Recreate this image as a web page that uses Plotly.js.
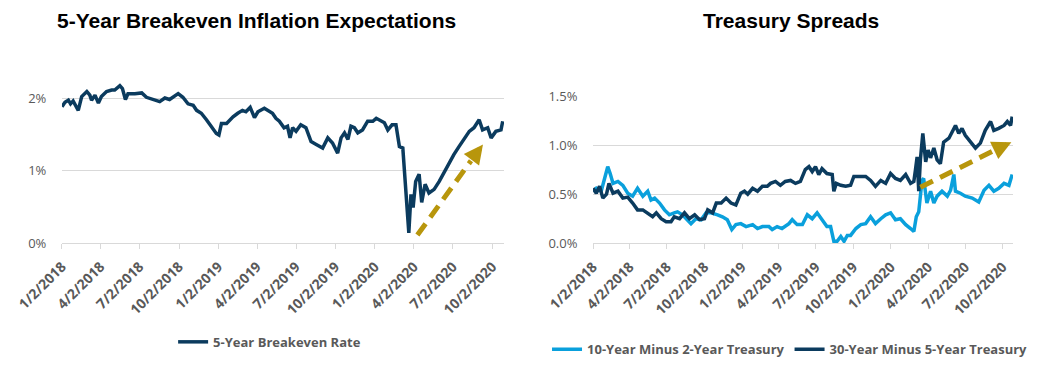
<!DOCTYPE html>
<html>
<head>
<meta charset="utf-8">
<script src="https://cdn.plot.ly/plotly-3.0.1.min.js"></script>
<style>html,body{margin:0;padding:0;background:#fff;}#chart{width:1045px;height:385px;}</style>
</head>
<body>
<div id="chart"></div>
<script>
// ---- Tick labels ----
const tickDates = ['2018-01-02','2018-04-02','2018-07-02','2018-10-02','2019-01-02','2019-04-02','2019-07-02','2019-10-02','2020-01-02','2020-04-02','2020-07-02','2020-10-02'];
const tickLabels = ['1/2/2018','4/2/2018','7/2/2018','10/2/2018','1/2/2019','4/2/2019','7/2/2019','10/2/2019','1/2/2020','4/2/2020','7/2/2020','10/2/2020'];

// ---- 5-Year Breakeven Rate (%) ----
const beDates = ['2018-01-02','2018-01-09','2018-01-17','2018-01-22','2018-01-28','2018-02-05','2018-02-09','2018-02-17','2018-03-01','2018-03-08','2018-03-12','2018-03-20','2018-03-28','2018-04-04','2018-04-16','2018-04-28','2018-05-05','2018-05-17','2018-05-23','2018-05-30','2018-06-05','2018-06-21','2018-07-07','2018-07-18','2018-08-03','2018-08-18','2018-08-30','2018-09-10','2018-09-30','2018-10-11','2018-10-23','2018-11-04','2018-11-12','2018-11-23','2018-12-05','2018-12-17','2018-12-28','2019-01-03','2019-01-09','2019-01-21','2019-01-28','2019-02-05','2019-02-16','2019-02-27','2019-03-07','2019-03-17','2019-03-27','2019-04-04','2019-04-19','2019-04-27','2019-05-08','2019-05-16','2019-05-24','2019-06-04','2019-06-12','2019-06-18','2019-06-24','2019-07-02','2019-07-13','2019-07-25','2019-08-06','2019-08-18','2019-09-02','2019-09-14','2019-09-25','2019-10-07','2019-10-15','2019-10-23','2019-10-31','2019-11-07','2019-11-15','2019-11-23','2019-12-04','2019-12-16','2019-12-28','2020-01-05','2020-01-13','2020-01-24','2020-02-01','2020-02-11','2020-02-20','2020-02-28','2020-03-07','2020-03-15','2020-03-21','2020-03-26','2020-03-31','2020-04-06','2020-04-14','2020-04-20','2020-04-28','2020-05-07','2020-05-19','2020-05-31','2020-06-11','2020-06-23','2020-07-04','2020-07-16','2020-07-28','2020-08-09','2020-08-20','2020-09-01','2020-09-09','2020-09-21','2020-09-29','2020-10-10','2020-10-22','2020-10-26'];
const beValues = [1.88,1.94,1.97,1.92,1.96,1.88,1.83,2.02,2.09,2.04,1.97,2.04,1.93,2.02,2.09,2.11,2.11,2.17,2.13,1.98,2.06,2.06,2.07,2.01,1.98,1.95,2.00,1.98,2.06,2.01,1.92,1.90,1.83,1.79,1.70,1.60,1.51,1.49,1.65,1.65,1.70,1.74,1.79,1.83,1.81,1.87,1.73,1.81,1.86,1.83,1.79,1.72,1.68,1.59,1.61,1.45,1.59,1.54,1.63,1.59,1.40,1.36,1.31,1.45,1.38,1.24,1.45,1.52,1.43,1.61,1.59,1.52,1.56,1.68,1.68,1.72,1.69,1.66,1.56,1.63,1.63,1.33,1.31,0.67,0.14,0.67,0.49,0.85,0.95,0.56,0.81,0.69,0.74,0.85,0.97,1.11,1.22,1.33,1.43,1.54,1.59,1.70,1.56,1.59,1.45,1.54,1.56,1.68];

// ---- 10-Year Minus 2-Year Treasury (%) ----
const s102Dates = ['2018-01-02','2018-01-10','2018-01-22','2018-01-30','2018-02-07','2018-02-13','2018-02-20','2018-03-04','2018-03-16','2018-03-28','2018-04-09','2018-04-21','2018-05-04','2018-05-16','2018-05-24','2018-06-02','2018-06-14','2018-06-26','2018-07-08','2018-07-20','2018-07-28','2018-08-09','2018-08-21','2018-08-30','2018-09-11','2018-09-24','2018-10-06','2018-10-18','2018-11-03','2018-11-15','2018-11-27','2018-12-08','2018-12-18','2018-12-30','2019-01-12','2019-01-28','2019-02-09','2019-02-21','2019-03-09','2019-03-17','2019-03-29','2019-04-10','2019-04-27','2019-05-05','2019-05-17','2019-05-30','2019-06-11','2019-06-23','2019-07-05','2019-07-17','2019-07-29','2019-08-07','2019-08-15','2019-08-23','2019-09-01','2019-09-09','2019-09-17','2019-09-25','2019-10-08','2019-10-20','2019-11-01','2019-11-13','2019-11-25','2019-12-08','2019-12-20','2020-01-01','2020-01-13','2020-01-25','2020-02-07','2020-02-19','2020-02-27','2020-03-04','2020-03-10','2020-03-18','2020-03-22','2020-03-30','2020-04-08','2020-04-16','2020-04-24','2020-05-06','2020-05-19','2020-05-27','2020-06-04','2020-06-08','2020-06-20','2020-07-02','2020-07-19','2020-08-04','2020-08-17','2020-08-29','2020-09-10','2020-09-22','2020-10-05','2020-10-17','2020-10-25'];
const s102Values = [0.53,0.56,0.53,0.64,0.78,0.71,0.61,0.63,0.59,0.51,0.48,0.56,0.48,0.53,0.44,0.46,0.41,0.34,0.29,0.31,0.32,0.29,0.24,0.20,0.25,0.24,0.31,0.31,0.29,0.27,0.24,0.14,0.19,0.20,0.17,0.19,0.15,0.17,0.17,0.14,0.17,0.15,0.20,0.24,0.19,0.19,0.29,0.25,0.31,0.24,0.17,0.17,0.02,0.02,0.07,0.02,0.08,0.08,0.15,0.19,0.20,0.27,0.20,0.25,0.29,0.31,0.24,0.25,0.19,0.15,0.12,0.27,0.32,0.64,0.66,0.41,0.53,0.41,0.48,0.53,0.48,0.54,0.70,0.53,0.51,0.48,0.46,0.42,0.54,0.59,0.53,0.56,0.61,0.59,0.70];

// ---- 30-Year Minus 5-Year Treasury (%) ----
const s305Dates = ['2018-01-02','2018-01-10','2018-01-18','2018-01-26','2018-02-04','2018-02-10','2018-02-20','2018-03-04','2018-03-16','2018-03-28','2018-04-09','2018-04-21','2018-05-04','2018-05-16','2018-05-28','2018-06-06','2018-06-18','2018-06-30','2018-07-12','2018-07-20','2018-08-02','2018-08-14','2018-08-26','2018-09-08','2018-09-20','2018-10-02','2018-10-10','2018-10-22','2018-10-31','2018-11-12','2018-11-24','2018-12-06','2018-12-18','2018-12-30','2019-01-08','2019-01-16','2019-01-28','2019-02-09','2019-02-21','2019-03-05','2019-03-13','2019-03-25','2019-04-06','2019-04-18','2019-05-01','2019-05-13','2019-05-25','2019-06-06','2019-06-15','2019-06-23','2019-07-01','2019-07-09','2019-07-17','2019-07-29','2019-08-11','2019-08-15','2019-08-21','2019-09-01','2019-09-13','2019-09-25','2019-10-03','2019-10-15','2019-11-01','2019-11-13','2019-11-25','2019-12-08','2019-12-20','2020-01-01','2020-01-13','2020-01-25','2020-02-07','2020-02-19','2020-02-27','2020-03-02','2020-03-06','2020-03-10','2020-03-14','2020-03-20','2020-03-27','2020-04-02','2020-04-08','2020-04-16','2020-04-24','2020-05-02','2020-05-10','2020-05-23','2020-05-31','2020-06-08','2020-06-16','2020-06-24','2020-07-02','2020-07-15','2020-07-27','2020-08-08','2020-08-20','2020-09-02','2020-09-10','2020-09-22','2020-10-05','2020-10-13','2020-10-21','2020-10-25'];
const s305Values = [0.56,0.51,0.58,0.46,0.50,0.61,0.51,0.53,0.46,0.47,0.41,0.34,0.34,0.31,0.27,0.31,0.25,0.22,0.22,0.27,0.25,0.31,0.25,0.29,0.24,0.25,0.34,0.31,0.41,0.41,0.46,0.41,0.39,0.51,0.53,0.50,0.56,0.53,0.58,0.58,0.61,0.63,0.59,0.63,0.64,0.61,0.63,0.75,0.78,0.73,0.78,0.70,0.76,0.71,0.70,0.53,0.61,0.59,0.58,0.59,0.68,0.68,0.68,0.64,0.58,0.64,0.61,0.71,0.66,0.64,0.70,0.61,0.63,0.75,0.88,0.53,0.85,1.12,0.83,0.95,0.87,0.97,0.85,0.81,1.03,1.07,1.14,1.20,1.12,1.17,1.10,1.03,0.97,1.02,1.15,1.24,1.15,1.17,1.20,1.24,1.20,1.29];

// ---- Trend arrows (start / tip) ----
const arrowLeftDates = ['2020-04-10','2020-09-10'];
const arrowLeftValues = [0.11, 1.36];
const arrowRightDates = ['2020-03-14','2020-10-23'];
const arrowRightValues = [0.57, 1.03];

const NAVY = '#0B3B5E';
const LIGHT = '#0AA0DC';
const GOLD = '#B8960C';
const GRID = '#D9D9D9';
const TXT = '#595959';
const FONT = 'Open Sans, Liberation Sans, Arial, sans-serif';

const traces = [
  {x: beDates, y: beValues, type: 'scatter', mode: 'lines', name: '5-Year Breakeven Rate',
   line: {color: NAVY, width: 3.5}, xaxis: 'x', yaxis: 'y', legend: 'legend'},
  {x: s102Dates, y: s102Values, type: 'scatter', mode: 'lines', name: '10-Year Minus 2-Year Treasury',
   line: {color: LIGHT, width: 3.5}, xaxis: 'x2', yaxis: 'y2', legend: 'legend2'},
  {x: s305Dates, y: s305Values, type: 'scatter', mode: 'lines', name: '30-Year Minus 5-Year Treasury',
   line: {color: NAVY, width: 3.5}, xaxis: 'x2', yaxis: 'y2', legend: 'legend2'}
];

function frac(d0, d1, f) {
  const a = new Date(d0).getTime(), b = new Date(d1).getTime();
  return new Date(a + (b - a) * f).toISOString().slice(0, 10);
}

function arrowParts(dates, vals, xr, yr) {
  const f = 0.82;
  const midX = frac(dates[0], dates[1], f);
  const midY = vals[0] + (vals[1] - vals[0]) * f;
  const shape = {type: 'line', xref: xr, yref: yr, x0: dates[0], y0: vals[0], x1: midX, y1: midY,
    line: {color: GOLD, width: 5, dash: '14px,8px'}};
  const ann = {xref: xr, yref: yr, axref: xr, ayref: yr, x: dates[1], y: vals[1],
    ax: frac(dates[0], dates[1], 0.9), ay: vals[0] + (vals[1] - vals[0]) * 0.9,
    showarrow: true, arrowhead: 2, arrowsize: 0.85, arrowwidth: 4.5, arrowcolor: GOLD, text: ''};
  return [shape, ann];
}
const aL = arrowParts(arrowLeftDates, arrowLeftValues, 'x', 'y');
const aR = arrowParts(arrowRightDates, arrowRightValues, 'x2', 'y2');

const xCommon = {
  type: 'date', tickmode: 'array', tickvals: tickDates, ticktext: tickLabels,
  tickangle: -45, showgrid: false, showline: true, linecolor: GRID, linewidth: 1,
  ticks: 'outside', ticklen: 5, tickcolor: GRID, tickwidth: 1, ticklabelstandoff: 4,
  tickfont: {family: FONT, size: 14, color: TXT, weight: 'bold'}, zeroline: false
};
const yCommon = {
  showgrid: true, gridcolor: GRID, gridwidth: 1, zeroline: false, showline: false,
  ticks: 'outside', ticklen: 12, tickcolor: 'rgba(0,0,0,0)',
  tickfont: {family: FONT, size: 13, color: TXT}
};

const layout = {
  width: 1045, height: 385,
  margin: {l: 0, r: 0, t: 0, b: 0},
  paper_bgcolor: '#ffffff', plot_bgcolor: '#ffffff',
  showlegend: true,
  xaxis: Object.assign({}, xCommon, {domain: [0.0593, 0.4823], range: ['2018-01-02', '2020-10-29'], anchor: 'y'}),
  yaxis: Object.assign({}, yCommon, {domain: [0.3688, 0.8019], range: [0, 2.3], tickvals: [0, 1, 2], ticktext: ['0%', '1%', '2%'], anchor: 'x'}),
  xaxis2: Object.assign({}, xCommon, {domain: [0.5675, 0.9694], range: ['2018-01-02', '2020-10-27'], anchor: 'y2'}),
  yaxis2: Object.assign({}, yCommon, {domain: [0.3681, 0.7507], range: [0, 1.5], tickvals: [0, 0.5, 1, 1.5], ticktext: ['0.0%', '0.5%', '1.0%', '1.5%'], anchor: 'x2'}),
  legend: {orientation: 'h', x: 0.258, xanchor: 'center', y: 0.112, yanchor: 'middle',
    font: {family: FONT, size: 13, color: TXT, weight: 'bold'}, bgcolor: 'rgba(0,0,0,0)'},
  legend2: {orientation: 'h', x: 0.756, xanchor: 'center', y: 0.093, yanchor: 'middle',
    font: {family: FONT, size: 13, color: TXT, weight: 'bold'}, bgcolor: 'rgba(0,0,0,0)'},
  shapes: [aL[0], aR[0]],
  annotations: [
    aL[1], aR[1],
    {text: '5-Year Breakeven Inflation Expectations', xref: 'paper', yref: 'paper', x: 0.245, y: 0.948,
     xanchor: 'center', yanchor: 'middle', showarrow: false,
     font: {family: 'Liberation Sans, Arial, sans-serif', size: 21, color: '#000000', weight: 'bold'}},
    {text: 'Treasury Spreads', xref: 'paper', yref: 'paper', x: 0.7565, y: 0.948,
     xanchor: 'center', yanchor: 'middle', showarrow: false,
     font: {family: 'Liberation Sans, Arial, sans-serif', size: 21, color: '#000000', weight: 'bold'}}
  ]
};

Plotly.newPlot('chart', traces, layout, {staticPlot: true, displayModeBar: false});
</script>
</body>
</html>
